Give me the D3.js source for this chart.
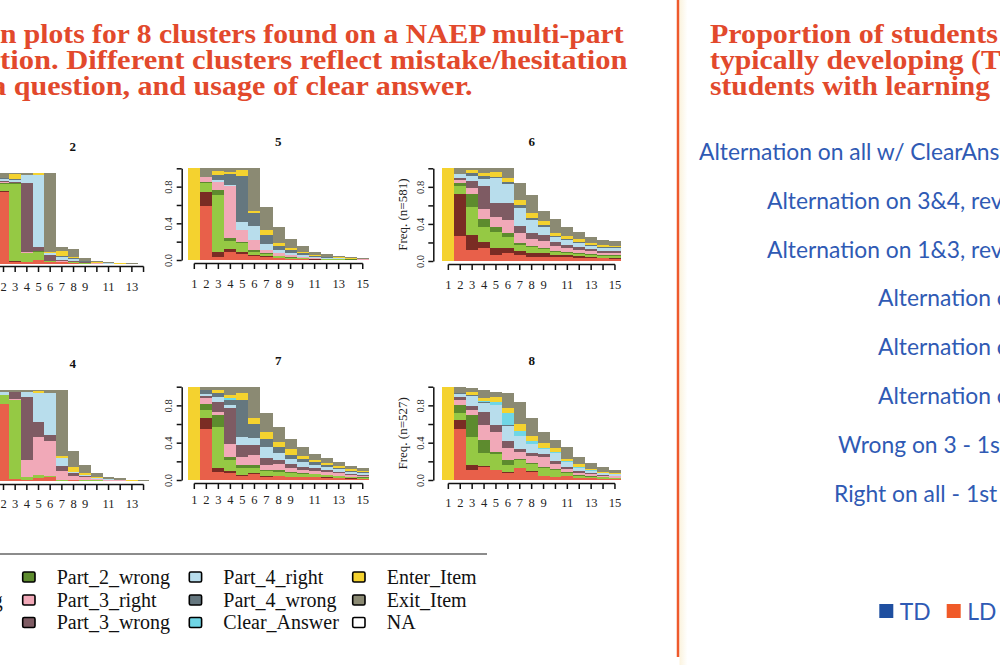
<!DOCTYPE html>
<html><head><meta charset="utf-8">
<script src="https://cdn.jsdelivr.net/npm/d3@7"></script>
<style>html,body{margin:0;padding:0;background:#fff;overflow:hidden}</style>
</head><body><svg id="c" width="1000" height="665"></svg>
<script>
// ---------------- DATA ----------------
const states = ["Part_1_right","Part_1_wrong","Part_2_right","Part_2_wrong","Part_3_right","Part_3_wrong","Part_4_right","Part_4_wrong","Clear_Answer","Enter_Item","Exit_Item"];
const legendLabels = ["Part_1_right","Part_1_wrong","Part_2_right","Part_2_wrong","Part_3_right","Part_3_wrong","Part_4_right","Part_4_wrong","Clear_Answer","Enter_Item","Exit_Item","NA"];

const cluster2 = [
 [0,0,0,0,0,0,0,0,0,1,0],
 [.79,.01,.08,.01,.01,.01,.02,.01,0,0,.06],
 [.03,.005,.845,.01,0,.01,.02,.01,0,.06,.01],
 [.03,0,.09,.005,.005,.755,.085,0,0,.005,.025],
 [.047,0,.09,.005,.005,.047,.78,0,0,.018,.008],
 [.025,0,.01,0,.005,.06,.02,.005,0,.005,.87],
 [.02,0,.005,0,.01,.015,.035,.01,0,.05,.045],
 [.015,0,.005,0,.01,.01,.02,.01,0,.01,.085],
 [.008,0,.003,0,.005,.005,.008,.005,0,.005,.03],
 [.004,0,.002,0,.003,.003,.004,.002,0,.003,.015],
 [.003,0,.001,0,.002,.002,.003,.001,0,.002,.008],
 [.002,0,.001,0,.001,.001,.002,.001,0,.002,.005],
 [.001,0,0,0,.001,0,.001,0,0,.003,.004],
 [0,0,0,0,0,0,0,0,0,.004,.003]
];
const cluster4 = [
 [0,0,0,0,0,0,0,0,0,1,0],
 [.85,0,.09,0,0,0,.04,0,0,0,.02],
 [.02,0,.868,0,.018,.073,0,0,0,0,.021],
 [.01,0,.03,0,.19,.696,.055,0,0,0,.019],
 [.03,0,.037,0,.42,.165,.32,0,0,.018,.01],
 [.048,0,.01,0,.377,.073,.455,0,0,0,.037],
 [.005,0,.005,0,.1,.055,.09,0,0,.025,.72],
 [.01,0,.005,0,.045,.03,.013,0,0,.055,.172],
 [.005,0,.01,0,.03,.01,.015,0,0,.015,.095],
 [.003,0,.003,0,.012,.005,.01,0,0,.006,.045],
 [.002,0,.002,0,.008,.003,.006,0,0,.004,.023],
 [.001,0,0,0,.005,.002,.004,0,0,.003,.015],
 [0,0,0,0,.003,0,.002,0,0,.002,.008],
 [0,0,0,0,.002,0,0,0,0,.002,.004]
];
const cluster5 = [
 [0,0,0,0,0,0,0,0,0,1,0],
 [.59,.155,.09,.02,.045,0,0,0,0,0,.10],
 [.036,.055,.62,.055,.09,0,.018,.055,0,.047,.024],
 [.09,.025,.095,.025,.575,0,.01,.12,0,.025,.035],
 [.062,.022,.098,.018,.127,0,.09,.5,0,.065,.018],
 [.044,.015,.033,.018,.11,0,.153,.138,0,.025,.464],
 [.03,.01,.025,.01,.036,0,.065,.1,0,.055,.25],
 [.018,.007,.018,.005,.025,0,.04,.04,0,.03,.18],
 [.01,.005,.01,.005,.02,0,.025,.03,0,.025,.095],
 [.008,.003,.008,.004,.012,0,.018,.02,0,.012,.068],
 [.004,.002,.006,.003,.008,0,.01,.012,0,.008,.037],
 [.003,.001,.004,.002,.005,0,.007,.008,0,.007,.025],
 [.002,.001,.003,.002,.004,0,.005,.006,0,.006,.018],
 [.002,.001,.002,.001,.003,0,.003,.004,0,.005,.012],
 [.001,0,.002,.001,.002,0,.002,.003,0,.003,.008]
];
const cluster6 = [
 [0,0,0,0,0,0,0,0,0,1,0],
 [.27,.45,.085,.035,.035,.025,.035,.005,0,0,.06],
 [.119,.162,.3,.144,.061,.072,.061,.029,0,.029,.023],
 [.137,.072,.162,.079,.108,.252,.072,.036,0,.029,.053],
 [.065,.072,.18,.054,.108,.151,.263,.018,0,.054,.035],
 [.083,.054,.119,.043,.144,.18,.209,.025,0,.036,.107],
 [.065,.043,.065,.025,.1,.079,.2,.025,0,.054,.189],
 [.047,.036,.065,.014,.072,.072,.137,.025,0,.047,.197],
 [.047,.036,.043,.01,.083,.061,.09,.018,0,.043,.112],
 [.047,.018,.036,.01,.05,.04,.054,.02,0,.03,.145],
 [.04,.02,.03,.01,.04,.035,.05,.015,0,.03,.097],
 [.035,.015,.03,.008,.035,.03,.045,.012,0,.025,.075],
 [.03,.012,.025,.006,.03,.025,.035,.01,0,.02,.062],
 [.027,.01,.022,.006,.026,.022,.032,.009,0,.018,.055],
 [.026,.01,.021,.006,.025,.021,.03,.008,0,.017,.052]
];
const cluster7 = [
 [0,0,0,0,0,0,0,0,0,1,0],
 [.543,.125,.082,.061,.064,.025,.02,.043,0,0,.037],
 [.09,.036,.446,.125,.036,.107,.054,.036,0,.036,.034],
 [.079,.018,.118,.029,.143,.382,.036,.054,.02,.036,.085],
 [.043,.01,.071,.036,.089,.125,.089,.393,0,.079,.065],
 [.064,.01,.054,.036,.107,.107,.071,.15,0,.064,.337],
 [.036,.005,.054,.015,.055,.071,.12,.08,0,.08,.205],
 [.04,.003,.046,.018,.061,.046,.071,.064,0,.061,.161],
 [.033,.003,.04,.01,.046,.043,.054,.036,0,.064,.114],
 [.03,.002,.032,.008,.036,.036,.046,.032,0,.039,.089],
 [.03,.002,.03,.007,.03,.03,.036,.025,0,.025,.064],
 [.025,.002,.025,.006,.027,.025,.03,.022,0,.02,.05],
 [.021,.002,.02,.005,.022,.02,.025,.018,0,.016,.04],
 [.016,.001,.014,.004,.017,.016,.018,.014,0,.015,.035],
 [.013,.001,.012,.003,.014,.013,.015,.012,0,.012,.03]
];
const cluster8 = [
 [0,0,0,0,0,0,0,0,0,1,0],
 [.543,.1,.071,.089,.054,.029,.036,.01,0,0,.068],
 [.107,.054,.304,.232,.054,.043,.107,.01,0,.036,.036],
 [.136,.014,.136,.143,.161,.143,.089,.018,.01,.025,.089],
 [.107,.005,.171,.018,.214,.071,.214,0,.036,.054,.054],
 [.071,.01,.082,.054,.125,.071,.17,.01,.125,.054,.164],
 [.125,0,.089,.01,.071,.036,.143,0,.054,.071,.233],
 [.089,.005,.082,.01,.071,.036,.089,0,.036,.054,.189],
 [.043,0,.082,.01,.107,.036,.054,0,.01,.054,.122],
 [.036,0,.071,.01,.054,.036,.087,0,.01,.036,.089],
 [.043,0,.03,.01,.036,.025,.054,0,.01,.018,.131],
 [.025,0,.02,.008,.025,.02,.03,0,.008,.036,.071],
 [.02,0,.015,.006,.02,.015,.025,0,.006,.012,.067],
 [.015,0,.012,.005,.015,.01,.018,0,.005,.008,.048],
 [.012,0,.01,.004,.012,.008,.014,0,.004,.006,.037]
];

const xLabelsShown = ["1","2","3","4","5","6","7","8","9","11","13","15"];
const yTickValues = [0,0.2,0.4,0.6,0.8,1.0];
const yTickLabels = ["0.0","","0.4","","0.8",""];
const yAxisTitles = {"6":"Freq. (n=581)","8":"Freq. (n=527)"};

const leftTitle = ["n plots for 8 clusters found on a NAEP multi-part",
                   "tion. Different clusters reflect mistake/hesitation",
                   "a question, and usage of clear answer."];
const rightTitle = ["Proportion of students","typically developing (TD)","students with learning"];
const groupLabels = ["Alternation on all w/ ClearAnswer","Alternation on 3&4, revisit","Alternation on 1&3, revisit",
  "Alternation on","Alternation on","Alternation on","Wrong on 3 - 1st","Right on all - 1st"];
const tdld = ["TD","LD"];

// ---------------- STYLE ----------------
const stateColors = ["#E8604A","#7A2C24","#95C944","#5D8B2E","#F1A9B8","#7E5B63","#B8DDEC","#65777F","#6FD6E6","#F4D22F","#8B8A73"];
const legendColors = stateColors.concat(["#FFFFFF"]);
const red = "#E2492C", blue = "#2F5AB4";

const svg = d3.select("#c");
svg.append("rect").attr("width",1000).attr("height",665).attr("fill","#fff");

function measure(text, family, weight, size){
  const t = svg.append("text").attr("font-family",family).attr("font-weight",weight).attr("font-size",size).text(text);
  const w = t.node().getComputedTextLength(); t.remove(); return w;
}

// ---------------- PANELS ----------------
const panels = [
 {id:"2", data:cluster2, left:-14.0, bw:11.67, y0:264.3, y1:172.7, xAxisY:266.5, labelY:287, titleX:72.7, titleY:146, yAxisX:-20.6, ylabX:-50},
 {id:"5", data:cluster5, left:188.3, bw:12.03, y0:260, y1:168.3, xAxisY:263.5, labelY:283.5, titleX:278.3, titleY:141, yAxisX:181.7, ylabX:150},
 {id:"6", data:cluster6, left:442.4, bw:11.9, y0:261, y1:168.3, xAxisY:264.5, labelY:284.5, titleX:531.7, titleY:141, yAxisX:433.3, ylabX:402.7},
 {id:"4", data:cluster4, left:-14.0, bw:11.67, y0:481, y1:390, xAxisY:484.5, labelY:503.5, titleX:72.7, titleY:363, yAxisX:-20.6, ylabX:-50},
 {id:"7", data:cluster7, left:188.3, bw:12.03, y0:480, y1:386.7, xAxisY:483.5, labelY:500, titleX:278.3, titleY:360, yAxisX:181.7, ylabX:150},
 {id:"8", data:cluster8, left:442.4, bw:11.9, y0:480, y1:386.7, xAxisY:483.5, labelY:503, titleX:531.7, titleY:360, yAxisX:433.3, ylabX:402.7}
];

panels.forEach(p => {
  const n = p.data.length;
  const pos = d3.range(1, n+1);
  const x = d3.scaleBand().domain(pos).range([p.left, p.left + n*p.bw]).padding(0);
  const y = d3.scaleLinear().domain([0,1]).range([p.y0, p.y1]);
  const rows = p.data.map((arr,i) => { const o = {pos:i+1}; states.forEach((s,j) => o[s] = arr[j]); return o; });
  const series = d3.stack().keys(states)(rows);
  const g = svg.append("g");
  g.selectAll("g.s").data(series).join("g").attr("class","s").attr("fill",(d,i)=>stateColors[i])
    .selectAll("rect").data(d=>d).join("rect")
    .attr("x", d => x(d.data.pos)).attr("width", x.bandwidth())
    .attr("y", d => y(d[1])).attr("height", d => Math.max(0, y(d[0]) - y(d[1])))
    .attr("shape-rendering","crispEdges");

  // x axis
  const ax = d3.axisBottom(x).tickSize(5.5).tickSizeOuter(0)
    .tickFormat(d => xLabelsShown.includes(String(d)) ? String(d) : "");
  const axG = g.append("g").attr("transform", `translate(0,${p.xAxisY})`).call(ax)
    .attr("font-family","Liberation Serif").attr("font-size",12.5);
  axG.select(".domain").remove();
  axG.append("line").attr("x1", x(1)+x.bandwidth()/2).attr("x2", x(n)+x.bandwidth()/2)
    .attr("stroke","#111").attr("stroke-width",1.5);
  axG.selectAll(".tick line").attr("stroke","#111").attr("stroke-width",1.5);
  axG.selectAll(".tick text").attr("y", p.labelY - p.xAxisY + 4.2).attr("dy", null).attr("fill","#222");

  // y axis
  const ay = d3.axisLeft(y).tickValues(yTickValues).tickSize(5).tickSizeOuter(0)
    .tickFormat((d,i) => yTickLabels[i]);
  const ayG = g.append("g").attr("transform", `translate(${p.yAxisX},0)`).call(ay)
    .attr("font-family","Liberation Serif").attr("font-size",10.5);
  ayG.select(".domain").attr("stroke","#111").attr("stroke-width",1.5);
  ayG.selectAll(".tick line").attr("stroke","#111").attr("stroke-width",1.5);
  ayG.selectAll(".tick text").attr("transform","rotate(-90)").attr("x",0).attr("y",-9.5)
    .attr("dy",null).attr("text-anchor","middle").attr("fill","#222");

  if (yAxisTitles[p.id]) {
    const cy = (p.y0 + p.y1) / 2;
    g.append("text").attr("transform", `translate(${p.ylabX + 4.5},${cy}) rotate(-90)`)
      .attr("text-anchor","middle").attr("font-family","Liberation Serif").attr("font-size",13)
      .attr("fill","#222").text(yAxisTitles[p.id]);
  }
  g.append("text").attr("x", p.titleX).attr("y", p.titleY + 5).attr("text-anchor","middle")
    .attr("font-family","Liberation Serif").attr("font-weight",700).attr("font-size",13)
    .attr("fill","#111").text(p.id);
});

// ---------------- STATE LEGEND ----------------
svg.append("line").attr("x1",-5).attr("x2",487).attr("y1",554).attr("y2",554)
  .attr("stroke","#666").attr("stroke-width",1.5);
const colBox = [-144.5, 22.7, 189.3, 352.7];
const rowC = [577, 600, 622.5];
legendLabels.forEach((lab, i) => {
  const c = Math.floor(i/3), r = i % 3;
  svg.append("rect").attr("x", colBox[c]).attr("y", rowC[r]-5).attr("width",12.3).attr("height",10)
    .attr("rx",1.5).attr("fill", legendColors[i]).attr("stroke","#000").attr("stroke-width",1.6);
  svg.append("text").attr("x", colBox[c]+34).attr("y", rowC[r]+6.5)
    .attr("font-family","Liberation Serif").attr("font-size",20).attr("fill","#111").text(lab);
});

// ---------------- TITLES ----------------
const tfs = 26.5;
const tBase = [42.5, 68.5, 94.5];
function titleLine(t, x0, yb, len){
  svg.append("text").attr("x", x0).attr("y", yb)
    .attr("font-family","Liberation Serif").attr("font-weight",700).attr("font-size",tfs)
    .attr("textLength", len).attr("lengthAdjust","spacingAndGlyphs")
    .attr("fill",red).text(t);
}
const wL = leftTitle.map(t => measure(t, "Liberation Serif", 700, tfs));
const kL = (623.5/wL[0] + 627.5/wL[1]) / 2;
titleLine(leftTitle[0], 0, tBase[0], 623.5);
titleLine(leftTitle[1], 0, tBase[1], 627.5);
titleLine(leftTitle[2], 472.5 - wL[2]*kL, tBase[2], wL[2]*kL);

const wR = rightTitle.map(t => measure(t, "Liberation Serif", 700, tfs));
const kR = (288/wR[0] + 280/wR[2]) / 2;
titleLine(rightTitle[0], 710, tBase[0], 288);
titleLine(rightTitle[1], 710, tBase[1], wR[1]*kR);
titleLine(rightTitle[2], 710, tBase[2], 280);

// ---------------- DIVIDER ----------------
const grad = svg.append("defs").append("linearGradient").attr("id","cream").attr("x1","0").attr("x2","1");
grad.append("stop").attr("offset","0").attr("stop-color","#FBF3DE");
grad.append("stop").attr("offset","1").attr("stop-color","#FFFFFF");
svg.append("rect").attr("x",679.5).attr("y",0).attr("width",8).attr("height",665).attr("fill","url(#cream)");
svg.append("line").attr("x1",678).attr("x2",678).attr("y1",0).attr("y2",657)
  .attr("stroke","#EE5A2C").attr("stroke-width",2.5);

// ---------------- GROUP LABELS ----------------
const bfs = 100 * 113 / measure("Alternation", "Lato", 400, 100);
const gx = [699, 767, 767, 878, 878, 878, 838, 834];
const gy = [160, 208.8, 257.6, 306.4, 355.2, 404, 452.8, 501.6];
groupLabels.forEach((t,i) => {
  svg.append("text").attr("x", gx[i]).attr("y", gy[i]).attr("font-family","Lato")
    .attr("font-size", bfs).attr("fill", blue).text(t);
});
const tdCol = ["#1F4FA0", "#F05A28"];
const tdX = [879.3, 946.7];
tdld.forEach((t,i) => {
  svg.append("rect").attr("x", tdX[i]).attr("y", 604).attr("width",14).attr("height",14).attr("fill", tdCol[i]);
  svg.append("text").attr("x", tdX[i]+20.5).attr("y", 619.5).attr("font-family","Lato")
    .attr("font-size", bfs).attr("fill", blue).text(t);
});
</script>
</body></html>
